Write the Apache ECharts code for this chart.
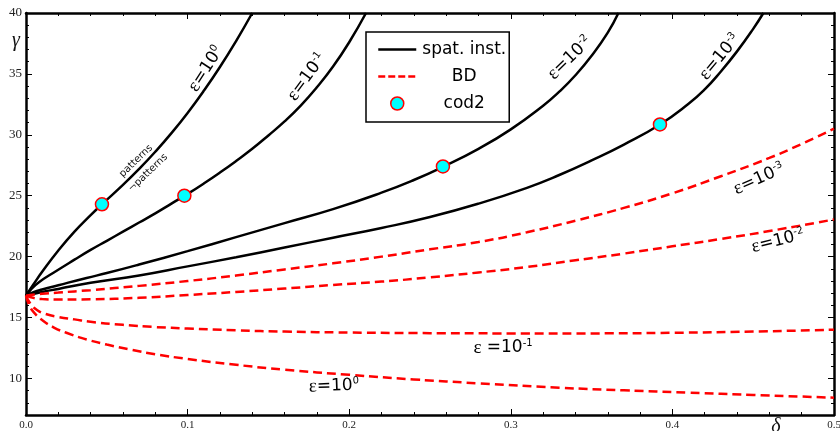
<!DOCTYPE html>
<html><head><meta charset="utf-8">
<script src="https://cdn.jsdelivr.net/npm/echarts@6/dist/echarts.min.js"></script>
<style>html,body{margin:0;padding:0;background:#fff}#c{width:840px;height:431px}</style>
</head><body><div id="c"></div>
<script>
// ---- tick values ----
const xMajorTicks = [0, 0.1, 0.2, 0.3, 0.4, 0.5];
const xMinorTicks = [0.02,0.04,0.06,0.08,0.12,0.14,0.16,0.18,0.22,0.24,0.26,0.28,0.32,0.34,0.36,0.38,0.42,0.44,0.46,0.48];
const yMajorTicks = [10, 15, 20, 25, 30, 35, 40];
const yMinorTicks = [8,9,11,12,13,14,16,17,18,19,21,22,23,24,26,27,28,29,31,32,33,34,36,37,38,39];

// ---- spatial instability curves (solid black) ----
const spatEps0 = [[0,16.8],[0.002,17.2],[0.005,17.8],[0.01,18.75],[0.02,20.5],[0.03,22.05],[0.04,23.4],[0.047,24.3],[0.06,25.89],[0.07,27.2],[0.08,28.61],[0.09,30.14],[0.1,31.8],[0.11,33.61],[0.12,35.57],[0.13,37.7],[0.14,40]];
const spatEps1 = [[0,16.8],[0.003,17.3],[0.008,17.9],[0.017,18.68],[0.03,19.75],[0.04,20.55],[0.05,21.3],[0.06,22.05],[0.07,22.8],[0.08,23.55],[0.09,24.35],[0.1,25.15],[0.11,26.0],[0.12,26.9],[0.13,27.85],[0.14,28.85],[0.15,29.95],[0.16,31.1],[0.17,32.4],[0.18,33.9],[0.19,35.6],[0.2,37.6],[0.2104,40]];
const spatEps2 = [[0,16.8],[0.005,17.1],[0.01,17.3],[0.02,17.65],[0.0375,18.25],[0.05,18.65],[0.07,19.35],[0.1,20.45],[0.13,21.6],[0.16,22.75],[0.19,23.9],[0.22,25.25],[0.24,26.29],[0.258,27.37],[0.28,28.85],[0.3,30.45],[0.32,32.39],[0.33,33.54],[0.34,34.89],[0.35,36.49],[0.36,38.39],[0.3666,40]];
const spatEps3 = [[0,16.8],[0.01,17.1],[0.02,17.35],[0.04,17.85],[0.07,18.45],[0.1,19.2],[0.13,19.95],[0.16,20.75],[0.19,21.55],[0.22,22.35],[0.25,23.25],[0.28,24.35],[0.31,25.65],[0.33,26.7],[0.35,27.9],[0.37,29.2],[0.3923,30.85],[0.41,32.55],[0.42,33.73],[0.43,35.2],[0.44,36.85],[0.45,38.7],[0.4563,40]];

// ---- BD curves (dashed red) ----
const bdEps3 = [[0,16.8],[0.01,16.95],[0.02,17.05],[0.04,17.25],[0.07,17.6],[0.1,18.0],[0.13,18.45],[0.16,18.95],[0.19,19.45],[0.22,20.0],[0.25,20.6],[0.28,21.2],[0.31,22.0],[0.34,22.95],[0.37,24.0],[0.4,25.2],[0.43,26.6],[0.46,28.1],[0.48,29.25],[0.5,30.5]];
const bdEps2 = [[0,16.8],[0.005,16.6],[0.01,16.52],[0.02,16.48],[0.04,16.5],[0.07,16.62],[0.1,16.85],[0.13,17.1],[0.16,17.38],[0.19,17.68],[0.22,17.95],[0.25,18.3],[0.28,18.7],[0.31,19.15],[0.34,19.7],[0.37,20.25],[0.4,20.85],[0.43,21.45],[0.46,22.1],[0.5,23.05]];
const bdEps1 = [[0,16.8],[0.003,16.1],[0.007,15.6],[0.012,15.3],[0.02,15.05],[0.03,14.85],[0.04,14.65],[0.06,14.4],[0.08,14.22],[0.1,14.1],[0.13,13.95],[0.16,13.85],[0.2,13.77],[0.25,13.72],[0.3,13.7],[0.35,13.7],[0.4,13.75],[0.45,13.85],[0.5,14.0]];
const bdEps0 = [[0,16.8],[0.002,16.0],[0.005,15.4],[0.01,14.8],[0.017,14.2],[0.025,13.75],[0.0375,13.2],[0.05,12.78],[0.065,12.36],[0.08,11.99],[0.1,11.6],[0.13,11.12],[0.16,10.72],[0.2,10.3],[0.24,9.92],[0.28,9.6],[0.33,9.24],[0.37,9.03],[0.41,8.84],[0.45,8.65],[0.5,8.42]];

// ---- codimension-2 points ----
const cod2Points = [[0.047,24.3],[0.098,25.0],[0.258,27.4],[0.3923,30.85]];

const chart = echarts.init(document.getElementById('c'), null, {renderer:'canvas'});

const BLACK = '#000';
const RED = '#ff0000';
const serif = 'Liberation Serif';
const sans = 'DejaVu Sans';
const NONE = 'rgba(0,0,0,0)';

function lineSeries(name, data, color, type){
  return {
    name, type:'line', data, xAxisIndex:0, yAxisIndex:0,
    symbol:'none', smooth:0.5, clip:true,
    lineStyle:{color, width:2.5, type},
    itemStyle:{color},
    emphasis:{disabled:true}, z:3
  };
}

function epsRich(size){
  return {
    e:{fontFamily:serif, fontSize:size+2, color:'#111'},
    n:{fontFamily:sans, fontSize:size, color:'#111'},
    s:{fontFamily:sans, fontSize:Math.round(size*0.58), color:'#111', verticalAlign:'top'}
  };
}
function epsLabel(x, y, deg, sup, gap){
  return {
    type:'text', x, y, rotation: deg*Math.PI/180, z:10,
    style:{
      text:'{e|ε}' + (gap ? '{n| =10}' : '{n|=10}') + '{s|' + sup + '}',
      textAlign:'center', textVerticalAlign:'middle',
      rich: epsRich(17)
    }
  };
}

function xAxisDef(pos, vals, len, showLine, showLabel){
  return {
    type:'value', min:0, max:0.5, position:pos,
    axisLine:{show:showLine, onZero:false, lineStyle:{color:BLACK, width:2.5}},
    axisTick:{show:true, inside:true, length:len, customValues:vals, lineStyle:{color:BLACK, width:1}},
    axisLabel:{show:showLabel, customValues:vals, formatter:v=>v.toFixed(1), fontFamily:serif, fontSize:11, color:'#222', margin:5},
    splitLine:{show:false}, minorTick:{show:false}
  };
}
function yAxisDef(pos, vals, len, showLine, showLabel){
  return {
    type:'value', min:7, max:40, position:pos,
    axisLine:{show:showLine, onZero:false, lineStyle:{color:BLACK, width:2.5}},
    axisTick:{show:true, inside:true, length:len, customValues:vals, lineStyle:{color:BLACK, width:1}},
    axisLabel:{show:showLabel, customValues:vals, fontFamily:serif, fontSize:13, color:'#222', margin:4},
    splitLine:{show:false}, minorTick:{show:false}
  };
}

const option = {
  animation:false,
  backgroundColor:'#fff',
  grid:{left:26, right:6, top:13, bottom:16, containLabel:false, outerBoundsMode:'none'},
  xAxis:[
    xAxisDef('bottom', xMajorTicks, 6, true, true),
    xAxisDef('bottom', xMinorTicks, 3, false, false),
    xAxisDef('top', xMajorTicks, 6, true, false),
    xAxisDef('top', xMinorTicks, 3, false, false)
  ],
  yAxis:[
    yAxisDef('left', yMajorTicks, 6, true, true),
    yAxisDef('left', yMinorTicks, 3, false, false),
    yAxisDef('right', yMajorTicks, 6, true, false),
    yAxisDef('right', yMinorTicks, 3, false, false)
  ],
  legend:{
    orient:'vertical', left:366, top:32,
    selectedMode:false,
    itemWidth:38, itemHeight:13, itemGap:10,
    padding:[9,3,10,11],
    borderColor:BLACK, borderWidth:1.5, borderRadius:0, backgroundColor:'#fff',
    textStyle:{fontFamily:sans, fontSize:17, color:'#000',
      rich:{c:{width:86, align:'center', fontFamily:sans, fontSize:17, color:'#000'}}},
    formatter: n => '{c|' + n + '}',
    data:[
      {name:'spat. inst.', lineStyle:{color:BLACK, width:2.5, type:'solid'}, itemStyle:{color:NONE, borderColor:NONE, borderWidth:0}},
      {name:'BD', lineStyle:{color:RED, width:2.5, type:[7,3]}, itemStyle:{color:NONE, borderColor:NONE, borderWidth:0}},
      {name:'cod2', icon:'circle', itemStyle:{color:'#00ffff', borderColor:RED, borderWidth:1.5}}
    ]
  },
  series:[
    lineSeries('spat. inst.', spatEps0, BLACK, 'solid'),
    lineSeries('spat. inst.', spatEps1, BLACK, 'solid'),
    lineSeries('spat. inst.', spatEps2, BLACK, 'solid'),
    lineSeries('spat. inst.', spatEps3, BLACK, 'solid'),
    lineSeries('BD', bdEps3, RED, [9,5]),
    lineSeries('BD', bdEps2, RED, [9,5]),
    lineSeries('BD', bdEps1, RED, [9,5]),
    lineSeries('BD', bdEps0, RED, [9,5]),
    {
      name:'cod2', type:'scatter', data:cod2Points, xAxisIndex:0, yAxisIndex:0,
      symbol:'circle', symbolSize:13, z:5,
      itemStyle:{color:'#00ffff', borderColor:RED, borderWidth:1.5, opacity:1},
      emphasis:{disabled:true}
    }
  ],
  graphic:[
    epsLabel(206, 69, 57, '0'),
    epsLabel(307, 77, 54, '-1'),
    epsLabel(570, 58, 44, '-2'),
    epsLabel(720, 57, 50, '-3'),
    epsLabel(759, 179, 24, '-3'),
    epsLabel(778, 241, 14, '-2'),
    epsLabel(503, 348, 0, '-1', true),
    epsLabel(334, 386, 2, '0'),
    {type:'text', x:136, y:161, rotation:44*Math.PI/180, z:10,
      style:{text:'patterns', font:'10px "DejaVu Sans"', fill:'#111', textAlign:'center', textVerticalAlign:'middle'}},
    {type:'text', x:148, y:173, rotation:44*Math.PI/180, z:10,
      style:{text:'¬patterns', font:'10px "DejaVu Sans"', fill:'#111', textAlign:'center', textVerticalAlign:'middle'}},
    {type:'text', x:16, y:41, z:10,
      style:{text:'γ', font:'italic 20px "Liberation Serif"', fill:'#111', textAlign:'center', textVerticalAlign:'middle'}},
    {type:'text', x:776, y:427, z:10,
      style:{text:'δ', font:'italic 20px "Liberation Serif"', fill:'#111', textAlign:'center', textVerticalAlign:'middle'}}
  ]
};
chart.setOption(option);
</script>
</body></html>
